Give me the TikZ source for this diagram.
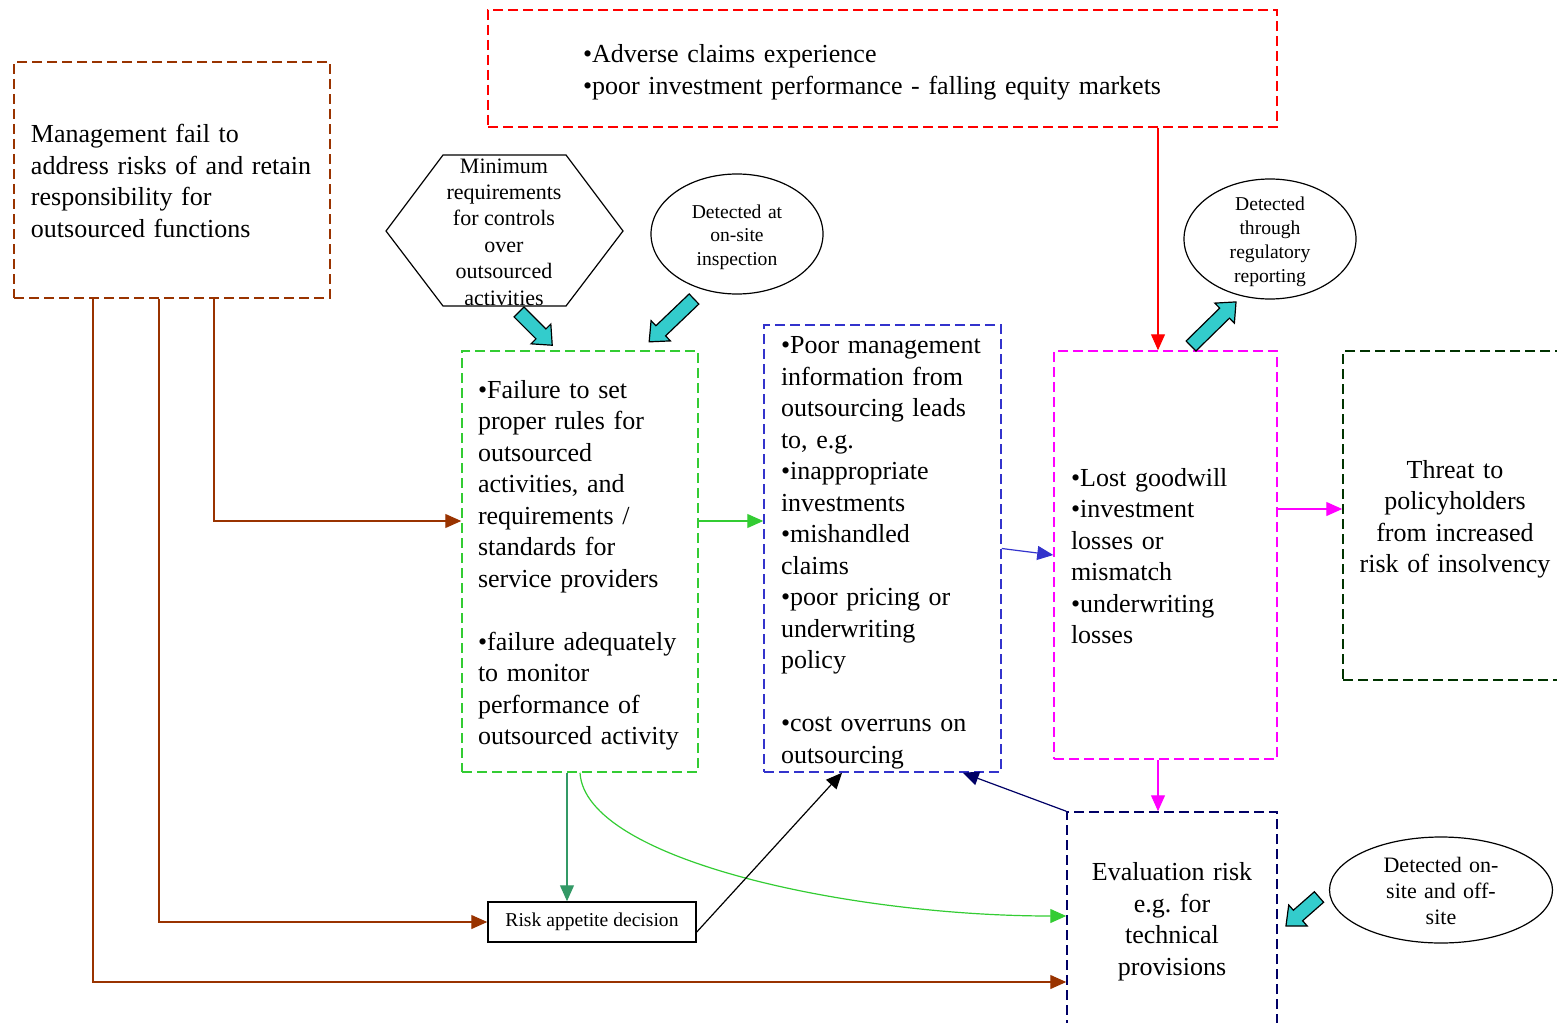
\documentclass[tikz,border=0pt]{standalone}
\usepackage{fontspec}
\setmainfont{Liberation Serif}
\frenchspacing
\usetikzlibrary{arrows.meta,shapes.geometric}
\definecolor{cbrown}{HTML}{993300}
\definecolor{cred}{HTML}{FF0000}
\definecolor{cgreen}{HTML}{33CC33}
\definecolor{cblue}{HTML}{3333CC}
\definecolor{cmag}{HTML}{FF00FF}
\definecolor{cdkgreen}{HTML}{003300}
\definecolor{cnavy}{HTML}{000066}
\definecolor{cseagreen}{HTML}{339966}
\definecolor{ccyan}{HTML}{33CCCC}

\begin{document}
\begin{tikzpicture}[x=0.5pt,y=-0.5pt, >={Triangle[length=8pt,width=7pt]},
  box/.style={rectangle, line width=0.75pt, dash pattern=on 5pt off 2.5pt, inner ysep=0pt,
    font=\fontsize{13}{15.75}\selectfont, align=left,
    execute at begin node={\rule{0pt}{13pt}}, execute at end node={\rule[-3pt]{0pt}{0pt}}},
  ell/.style={ellipse, draw, line width=0.6pt, inner xsep=-10pt, inner ysep=-6pt, align=center,
    text width=70pt, font=\fontsize{9.8}{11.75}\selectfont,
    execute at begin node={\rule{0pt}{10pt}}, execute at end node={\rule[-2.5pt]{0pt}{0pt}}},
  conn/.style={->, line width=0.6pt},
  pics/blockarr/.style={code={
    \draw[fill=ccyan, line width=0.6pt] (0pt,-3.5pt) -- ({#1-8pt},-3.5pt) -- ({#1-8pt},-7pt)
      -- (#1,0pt) -- ({#1-8pt},7pt) -- ({#1-8pt},3.5pt) -- (0pt,3.5pt) -- cycle;}}]
\useasboundingbox (0,0) rectangle (1557,1022);

% boxes
\node (mgmt) at (172,180) [box, draw=cbrown, minimum width=158pt, minimum height=118pt,
  inner xsep=8.5pt, text width=141pt]
  {Management fail to\\address risks of and retain\\responsibility for\\outsourced functions};
\node (top) at (882.5,68.5) [box, draw=cred, minimum width=394.5pt, minimum height=58.5pt,
  inner xsep=47.5pt, text width=299.5pt]
  {•Adverse claims experience\\•poor investment performance - falling equity markets};
\node (fail) at (580,561.5) [box, draw=cgreen, minimum width=118pt, minimum height=210.5pt,
  inner xsep=8pt, text width=102pt]
  {•Failure to set\\proper rules for\\outsourced\\activities, and\\requirements /\\standards for\\service providers\\[15.75pt]%
   •failure adequately\\to monitor\\performance of\\outsourced activity};
\node (poor) at (882.5,548.5) [box, draw=cblue, minimum width=118.5pt, minimum height=223.5pt,
  inner xsep=8.5pt, text width=101.5pt]
  {•Poor management\\information from\\outsourcing leads\\to, e.g.\\•inappropriate\\investments\\•mishandled\\claims\\•poor pricing or\\underwriting\\policy\\[15.75pt]%
   •cost overruns on\\outsourcing};
\node (lost) at (1165.5,555) [box, draw=cmag, minimum width=111.5pt, minimum height=204pt,
  inner xsep=8.5pt, text width=94.5pt]
  {•Lost goodwill\\•investment\\losses or\\mismatch\\•underwriting\\losses};
\node (threat) at (1455,515.5) [box, draw=cdkgreen, minimum width=112pt, minimum height=164.5pt,
  inner xsep=4pt, text width=104pt, align=center]
  {Threat to\\policyholders\\from increased\\risk of insolvency};
\node (eval) at (1172,918) [box, draw=cnavy, minimum width=105pt, minimum height=106pt,
  inner xsep=5pt, text width=95pt, align=center]
  {Evaluation risk\\e.g. for\\technical\\provisions};
\node (risk) at (592,922) [rectangle, draw, line width=0.75pt, minimum width=104pt, minimum height=20pt,
  inner sep=0pt, font=\fontsize{9.8}{11}\selectfont] {Risk appetite decision};

% hexagon and ellipses
\draw[line width=0.6pt] (386,231) -- (443,155) -- (566,155) -- (623,231) -- (566,306) -- (443,306) -- cycle;
\node (minreq) at (504,232) [align=center, inner sep=0pt, font=\fontsize{11}{13.2}\selectfont]
  {Minimum\\requirements\\for controls\\over\\outsourced\\activities};
\node (onsite) at (737,234) [ell, minimum width=86pt, minimum height=60pt]
  {Detected at\\on-site\\inspection};
\node (regrep) at (1270,239) [ell, minimum width=86pt, minimum height=60pt, font=\fontsize{9.8}{12}\selectfont]
  {Detected\\through\\regulatory\\reporting};
\node (offsite) at (1441,890) [ell, minimum width=111.5pt, minimum height=53pt, font=\fontsize{11}{13.2}\selectfont,
  execute at begin node={\rule{0pt}{11pt}}]
  {Detected on-\\site and off-\\site};

% block arrows
\pic[rotate=-45] at (519,312) {blockarr=23.5pt};
\pic[rotate=-136.3] at (694,299) {blockarr=31pt};
\pic[rotate=44.4] at (1191,346) {blockarr=31.5pt};
\pic[rotate=-138.7] at (1319,897) {blockarr=22pt};

% connectors
\coordinate (mid) at (0,521);
\coordinate (low) at (0,982);
\coordinate (thr) at (0,509);
\coordinate (col) at (1158,0);
\coordinate (sg) at (567,0);
\draw[conn, color=cbrown] ([xshift=21pt]mgmt.south) |- (fail.west |- mid);
\draw[conn, color=cbrown] ([xshift=-6.5pt]mgmt.south) |- (risk.west);
\draw[conn, color=cbrown] ([xshift=-39.5pt]mgmt.south) |- (eval.west |- low);
\draw[conn, color=cgreen] (fail.east |- mid) -- (poor.west |- mid);
\draw[conn, color=cblue] (poor.east) -- (lost.west);
\draw[conn, color=cmag] (lost.east |- thr) -- (threat.west |- thr);
\draw[conn, color=cred] (top.south -| col) -- (lost.north -| col);
\draw[conn, color=cmag] (lost.south -| col) -- (eval.north -| col);
\draw[conn, color=cseagreen] (fail.south -| sg) -- (risk.north -| sg);
\draw[conn, color=cgreen] (fail.south) .. controls (585,860) and (850,916) .. ([yshift=1pt]eval.west);
\draw[conn, color=black] ([yshift=-5pt]risk.east) -- ([xshift=-20.25pt]poor.south);
\draw[conn, color=cnavy] (eval.north west) -- ([xshift=-19.5pt]poor.south east);
\end{tikzpicture}
\end{document}
